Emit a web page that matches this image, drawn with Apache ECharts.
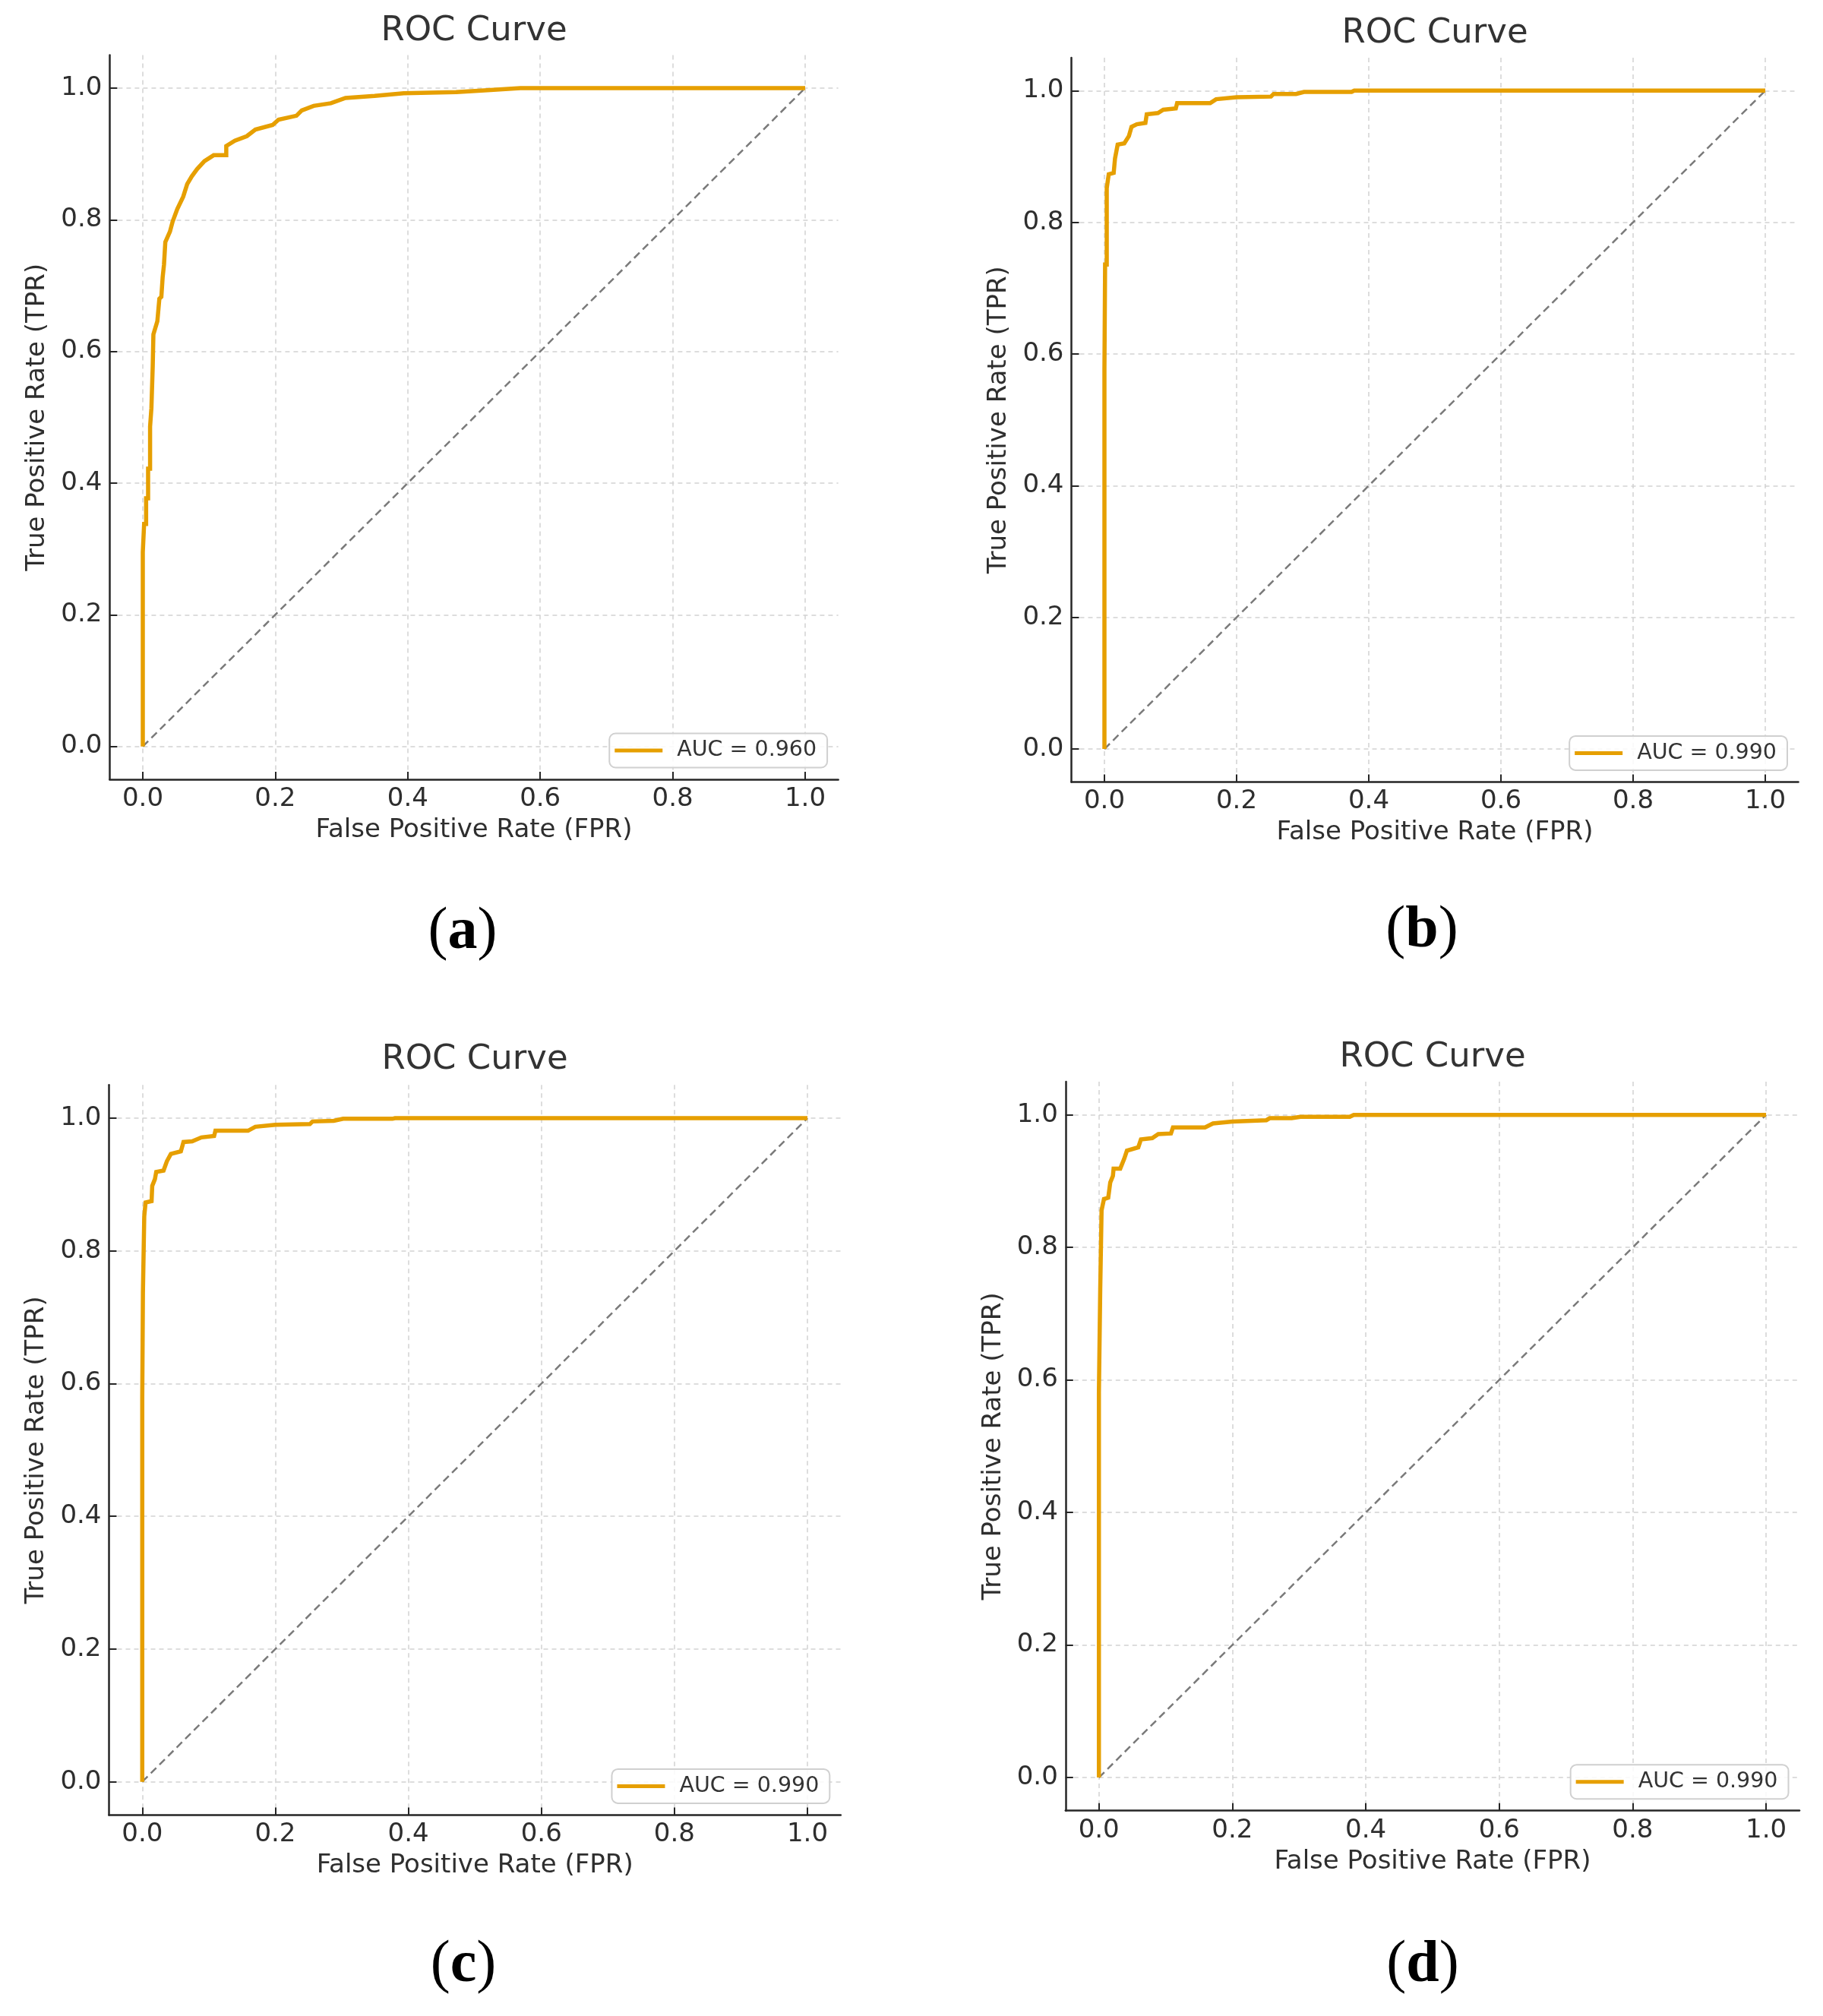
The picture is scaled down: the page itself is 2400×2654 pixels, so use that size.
<!DOCTYPE html>
<html>
<head>
<meta charset="utf-8">
<script src="https://cdn.jsdelivr.net/npm/echarts@6.0.0/dist/echarts.min.js"></script>
<style>
html,body{margin:0;padding:0;background:#fff;}
#chart{width:2400px;height:2654px;}
</style>
</head>
<body>
<div id="chart"></div>
<script>
// ---------- data ----------
var tickValues = [0, 0.2, 0.4, 0.6, 0.8, 1.0];
var diagFpr = [0, 1];
var diagTpr = [0, 1];

var panelLetters = ['a', 'b', 'c', 'd'];
var chartTitles = ['ROC Curve', 'ROC Curve', 'ROC Curve', 'ROC Curve'];
var xAxisTitle = 'False Positive Rate (FPR)';
var yAxisTitle = 'True Positive Rate (TPR)';
var legendNames = ['AUC = 0.960', 'AUC = 0.990', 'AUC = 0.990', 'AUC = 0.990'];

var fprA = [0, 0, 0.002, 0.002, 0.005, 0.005, 0.008, 0.008, 0.011, 0.011, 0.013, 0.013, 0.015, 0.015, 0.016, 0.016, 0.022, 0.025, 0.028, 0.030, 0.032, 0.034, 0.041, 0.045, 0.052, 0.061, 0.067, 0.074, 0.082, 0.093, 0.107, 0.126, 0.126, 0.139, 0.157, 0.170, 0.196, 0.205, 0.232, 0.240, 0.258, 0.284, 0.306, 0.350, 0.394, 0.473, 0.525, 0.570, 1.0];
var tprA = [0, 0.295, 0.295, 0.338, 0.338, 0.377, 0.377, 0.422, 0.422, 0.486, 0.486, 0.514, 0.514, 0.578, 0.578, 0.626, 0.646, 0.680, 0.683, 0.713, 0.732, 0.766, 0.782, 0.797, 0.816, 0.835, 0.854, 0.866, 0.877, 0.889, 0.898, 0.898, 0.912, 0.920, 0.927, 0.937, 0.944, 0.952, 0.958, 0.966, 0.973, 0.977, 0.985, 0.988, 0.992, 0.994, 0.997, 1.0, 1.0];

var fprB = [0, 0, 0.001, 0.001, 0.0035, 0.0035, 0.0065, 0.014, 0.016, 0.020, 0.030, 0.037, 0.041, 0.049, 0.062, 0.064, 0.081, 0.089, 0.108, 0.110, 0.160, 0.169, 0.200, 0.252, 0.256, 0.290, 0.302, 0.374, 0.378, 1.0];
var tprB = [0, 0.577, 0.577, 0.736, 0.736, 0.852, 0.873, 0.875, 0.897, 0.918, 0.920, 0.931, 0.945, 0.949, 0.951, 0.964, 0.966, 0.971, 0.973, 0.981, 0.981, 0.987, 0.990, 0.991, 0.995, 0.995, 0.998, 0.998, 1.0, 1.0];

var fprC = [0, 0, 0.001, 0.001, 0.003, 0.003, 0.005, 0.014, 0.015, 0.019, 0.021, 0.032, 0.037, 0.043, 0.058, 0.062, 0.075, 0.089, 0.108, 0.110, 0.159, 0.170, 0.200, 0.252, 0.256, 0.288, 0.302, 0.376, 0.380, 1.0];
var tprC = [0, 0.580, 0.580, 0.737, 0.737, 0.852, 0.873, 0.875, 0.898, 0.908, 0.919, 0.921, 0.935, 0.946, 0.950, 0.964, 0.965, 0.971, 0.973, 0.981, 0.981, 0.987, 0.990, 0.991, 0.995, 0.996, 0.999, 0.999, 1.0, 1.0];

var fprD = [0, 0, 0.002, 0.002, 0.004, 0.004, 0.0076, 0.014, 0.017, 0.021, 0.022, 0.032, 0.038, 0.042, 0.059, 0.063, 0.080, 0.089, 0.108, 0.111, 0.159, 0.171, 0.200, 0.251, 0.256, 0.289, 0.302, 0.376, 0.382, 1.0];
var tprD = [0, 0.581, 0.581, 0.737, 0.737, 0.856, 0.873, 0.875, 0.898, 0.908, 0.919, 0.919, 0.934, 0.946, 0.951, 0.963, 0.965, 0.971, 0.972, 0.981, 0.981, 0.987, 0.990, 0.992, 0.995, 0.995, 0.997, 0.997, 1.0, 1.0];

var fprList = [fprA, fprB, fprC, fprD];
var tprList = [tprA, tprB, tprC, tprD];

// ---------- layout ----------
var W = 2400, H = 2654;
var grids = [
  {left: 144.4, top: 72.6, width: 959.2, height: 953.4},
  {left: 1410.5, top: 76.0, width: 957.0, height: 953.4},
  {left: 143.5, top: 1428.3, width: 963.3, height: 961.1},
  {left: 1402.8, top: 1424.1, width: 966.2, height: 959.6}
];
var titlePos = [[624, 41], [1889, 44], [625, 1395], [1886, 1392]];
var letterPos = [[609, 1228], [1872, 1226], [610, 2588], [1873, 2588]];

var FONT = '"DejaVu Sans", sans-serif';
var SERIF = '"Liberation Serif", serif';
var ORANGE = '#E69F00';
var TEXT = '#2e2e2e';
var SPINE = '#262626';

function pairs(xs, ys) {
  var out = [];
  for (var i = 0; i < xs.length; i++) out.push([xs[i], ys[i]]);
  return out;
}

var option = {
  backgroundColor: '#ffffff',
  animation: false,
  grid: [], xAxis: [], yAxis: [], series: [], legend: [], graphic: []
};

for (var p = 0; p < 4; p++) {
  var g = grids[p];
  option.grid.push({left: g.left, top: g.top, width: g.width, height: g.height, containLabel: false});
  option.xAxis.push({
    type: 'value', gridIndex: p, min: -0.05, max: 1.05,
    name: xAxisTitle, nameLocation: 'middle', nameGap: 50,
    nameTextStyle: {fontFamily: FONT, fontSize: 34, color: TEXT},
    axisLine: {show: true, onZero: false, lineStyle: {color: SPINE, width: 2.5}},
    axisTick: {show: true, inside: true, length: 10, customValues: tickValues, lineStyle: {color: SPINE, width: 2}},
    axisLabel: {customValues: tickValues, fontFamily: FONT, fontSize: 34, color: TEXT, margin: 9,
      formatter: function (v) { return v.toFixed(1); }},
    splitLine: {show: true, lineStyle: {color: '#d2d2d2', width: 1.5, type: [6, 5]}}
  });
  option.yAxis.push({
    type: 'value', gridIndex: p, min: -0.05, max: 1.05,
    name: yAxisTitle, nameLocation: 'middle', nameGap: 78,
    nameTextStyle: {fontFamily: FONT, fontSize: 34, color: TEXT},
    axisLine: {show: true, onZero: false, lineStyle: {color: SPINE, width: 2.5}},
    axisTick: {show: true, inside: true, length: 10, customValues: tickValues, lineStyle: {color: SPINE, width: 2}},
    axisLabel: {customValues: tickValues, fontFamily: FONT, fontSize: 34, color: TEXT, margin: 10,
      formatter: function (v) { return v.toFixed(1); }},
    splitLine: {show: true, lineStyle: {color: '#d2d2d2', width: 1.5, type: [6, 5]}}
  });
  option.series.push({
    type: 'line', xAxisIndex: p, yAxisIndex: p, silent: true,
    data: pairs(diagFpr, diagTpr), symbol: 'none', z: 2,
    lineStyle: {color: '#7a7a7a', width: 2.5, type: [10, 6]}
  });
  option.series.push({
    type: 'line', name: legendNames[p], xAxisIndex: p, yAxisIndex: p,
    data: pairs(fprList[p], tprList[p]), symbol: 'none', z: 3,
    color: ORANGE,
    lineStyle: {color: ORANGE, width: 5.5, join: 'miter'}
  });
  var gRight = g.left + g.width;
  var gBottom = g.top + g.height;
  option.legend.push({
    data: [{name: legendNames[p], icon: 'rect'}],
    right: W - (gRight - 14.5),
    bottom: H - (gBottom - 15.5),
    orient: 'horizontal',
    itemWidth: 63, itemHeight: 5,
    backgroundColor: 'rgba(255,255,255,0.85)',
    borderColor: '#d0d0d0', borderWidth: 2, borderRadius: 8,
    padding: [8, 14, 8, 7],
    selectedMode: false,
    textStyle: {fontFamily: FONT, fontSize: 28.5, color: '#333', padding: [0, 0, 0, 14]}
  });
  option.graphic.push({
    type: 'text', x: titlePos[p][0], y: titlePos[p][1], silent: true,
    style: {text: chartTitles[p], fontFamily: FONT, fontSize: 45, fill: '#333',
      align: 'center', verticalAlign: 'middle'}
  });
  option.graphic.push({
    type: 'text', x: letterPos[p][0], y: letterPos[p][1], silent: true,
    style: {
      text: '{p|(}{b|' + panelLetters[p] + '}{p|)}',
      fontFamily: SERIF, fontSize: 78, fontWeight: 'normal', fill: '#000',
      align: 'center', verticalAlign: 'middle',
      rich: {
        p: {fontFamily: SERIF, fontSize: 78, fill: '#000', fontWeight: 'normal'},
        b: {fontFamily: SERIF, fontSize: 78, fill: '#000', fontWeight: 'bold'}
      }
    }
  });
}

var chart = echarts.init(document.getElementById('chart'), null, {renderer: 'canvas', width: W, height: H, devicePixelRatio: 1});
chart.setOption(option);
</script>
</body>
</html>
